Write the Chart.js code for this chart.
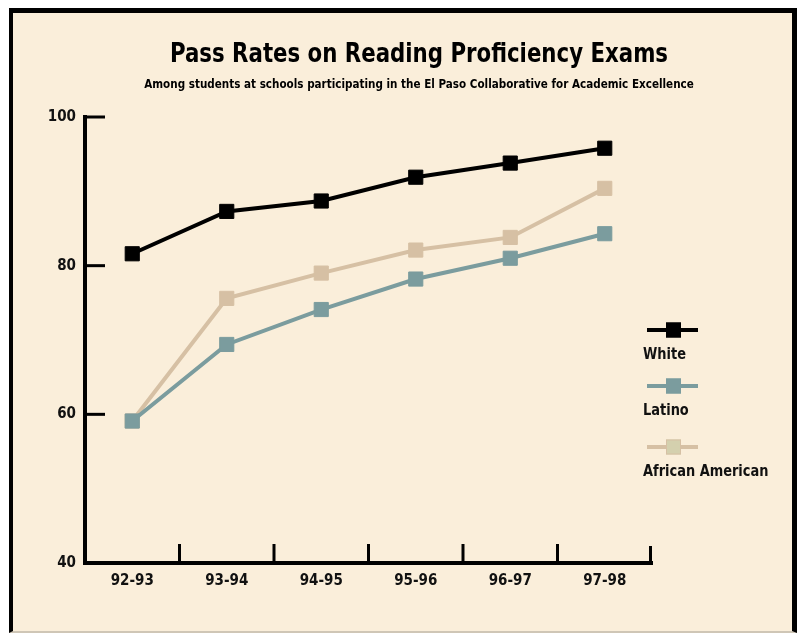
<!DOCTYPE html>
<html>
<head>
<meta charset="utf-8">
<script src="https://cdn.jsdelivr.net/npm/chart.js@4/dist/chart.umd.min.js"></script>
<style>
  html, body { margin: 0; padding: 0; background: #ffffff; }
  body { width: 802px; height: 635px; position: relative; overflow: hidden;
         font-family: 'Liberation Sans Narrow', 'DejaVu Sans Condensed', 'Arial Narrow', sans-serif; }
  #frame { position: absolute; left: 9px; top: 8px; width: 788px; height: 625px;
           background: #FAEEDA; border-left: 4px solid #000; border-top: 5px solid #000;
           border-right: 5px solid #000; border-bottom: 2px solid #CFC6B6; box-sizing: border-box; }
  #title { position: absolute; left: 0; top: 39px; width: 838px; text-align: center;
           font-size: 27px; font-weight: bold; line-height: 27px; color: #000;
           transform: scaleX(0.877); transform-origin: 419px 0; }
  #subtitle { position: absolute; left: 0; top: 77px; width: 838px; text-align: center;
              font-size: 13px; font-weight: bold; line-height: 13px; color: #000;
              transform: scaleX(0.89); transform-origin: 419px 0; }
  #wrap { position: absolute; left: 0; top: 0; width: 802px; height: 635px; }
</style>
</head>
<body>
<div id="frame"></div>
<div id="wrap"><canvas id="c" width="802" height="635"></canvas></div>
<div id="title">Pass Rates on Reading Proficiency Exams</div>
<div id="subtitle">Among students at schools participating in the El Paso Collaborative for Academic Excellence</div>
<script>
const schoolYears = ['92-93', '93-94', '94-95', '95-96', '96-97', '97-98'];
const whiteRates = [81.6, 87.3, 88.7, 91.9, 93.8, 95.8];
const latinoRates = [59.1, 69.4, 74.1, 78.2, 81.0, 84.3];
const africanAmericanRates = [59.1, 75.6, 79.0, 82.1, 83.8, 90.4];
const yTickValues = [40, 60, 80, 100];

const FONT = "'Liberation Sans Narrow', 'DejaVu Sans Condensed', 'Arial Narrow', sans-serif";

const axisDecor = {
  id: 'axisDecor',
  afterDatasetsDraw(chart) {
    const ctx = chart.ctx;
    const area = chart.chartArea;
    const xs = chart.scales.x, ys = chart.scales.y;
    ctx.save();
    ctx.strokeStyle = '#000';
    ctx.lineWidth = 3;
    ctx.lineCap = 'butt';
    yTickValues.forEach(v => {
      if (v === ys.min) return;
      const y = ys.getPixelForValue(v);
      ctx.beginPath(); ctx.moveTo(area.left, y); ctx.lineTo(area.left + 20, y); ctx.stroke();
    });
    const half = (xs.getPixelForValue(1) - xs.getPixelForValue(0)) / 2;
    for (let i = 0; i < schoolYears.length; i++) {
      const last = i === schoolYears.length - 1;
      const x = last ? area.right - 1.5 : xs.getPixelForValue(i) + half;
      const len = last ? 17 : 19;
      ctx.beginPath(); ctx.moveTo(x, area.bottom); ctx.lineTo(x, area.bottom - len); ctx.stroke();
    }
    ctx.restore();
  }
};

const customLegend = {
  id: 'customLegend',
  afterDraw(chart) {
    const ctx = chart.ctx;
    const rows = [330, 386, 447];
    ctx.save();
    chart.data.datasets.forEach((ds, i) => {
      const y = rows[i];
      ctx.strokeStyle = ds.borderColor;
      ctx.lineWidth = 4;
      ctx.beginPath(); ctx.moveTo(647, y); ctx.lineTo(698, y); ctx.stroke();
      ctx.fillStyle = ds.legendFill || ds.pointBackgroundColor;
      ctx.fillRect(666, y - 7.5, 15, 15);
      ctx.lineWidth = 1;
      ctx.strokeStyle = ds.pointBorderColor;
      ctx.strokeRect(666.5, y - 7, 14, 14);
      ctx.save();
      ctx.translate(643, y + 29);
      ctx.scale(0.9, 1);
      ctx.fillStyle = '#111';
      ctx.font = 'bold 16px ' + FONT;
      ctx.textAlign = 'left';
      ctx.textBaseline = 'alphabetic';
      ctx.fillText(ds.label, 0, 0);
      ctx.restore();
    });
    ctx.restore();
  }
};

new Chart(document.getElementById('c'), {
  type: 'line',
  data: {
    labels: schoolYears,
    datasets: [
      { label: 'White', data: whiteRates, borderColor: '#000000', backgroundColor: '#000000',
        pointBackgroundColor: '#000000', pointBorderColor: '#000000', borderWidth: 4,
        pointStyle: 'rect', pointRadius: 10, pointBorderWidth: 1, tension: 0 },
      { label: 'Latino', data: latinoRates, borderColor: '#7B9C9E', backgroundColor: '#7B9C9E',
        pointBackgroundColor: '#7B9C9E', pointBorderColor: '#7B9C9E', borderWidth: 4,
        pointStyle: 'rect', pointRadius: 10, pointBorderWidth: 1, tension: 0 },
      { label: 'African American', data: africanAmericanRates, borderColor: '#D6C0A4', backgroundColor: '#D6C0A4',
        pointBackgroundColor: '#D6C0A4', pointBorderColor: '#D6C0A4', legendFill: '#D4D0AE', borderWidth: 4,
        pointStyle: 'rect', pointRadius: 10, pointBorderWidth: 1, tension: 0 }
    ]
  },
  options: {
    responsive: false,
    animation: false,
    devicePixelRatio: 1,
    clip: false,
    layout: { padding: { left: 0, right: 150, top: 117, bottom: 0 } },
    plugins: { legend: { display: false }, title: { display: false }, tooltip: { enabled: false } },
    scales: {
      x: {
        type: 'category',
        offset: true,
        grid: { display: false, drawTicks: false },
        border: { display: true, color: '#000', width: 4 },
        ticks: { color: '#111', padding: 9, font: { family: FONT, size: 15, weight: 'bold' }, maxRotation: 0 },
        afterFit(scale) { scale.height = 72; }
      },
      y: {
        type: 'linear',
        min: 40, max: 100,
        afterBuildTicks(scale) { scale.ticks = yTickValues.map(v => ({ value: v })); },
        grid: { display: false, drawTicks: false },
        border: { display: true, color: '#000', width: 4 },
        ticks: { color: '#111', padding: 9, font: { family: FONT, size: 15, weight: 'bold' } },
        afterFit(scale) { scale.width = 85; }
      }
    }
  },
  plugins: [axisDecor, customLegend]
});
</script>
</body>
</html>
